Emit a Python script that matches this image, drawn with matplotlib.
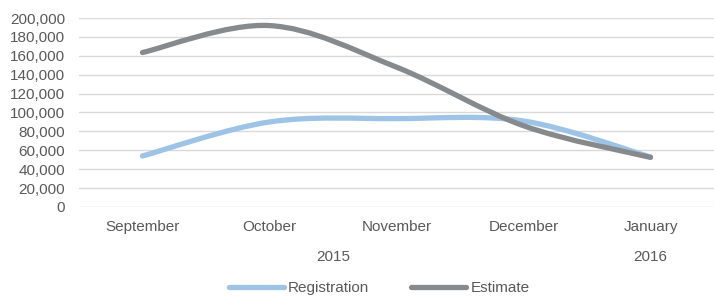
import matplotlib
matplotlib.use("Agg")
import matplotlib.pyplot as plt
from matplotlib.path import Path
from matplotlib.patches import PathPatch
from matplotlib.lines import Line2D
import matplotlib.transforms as mtransforms
import numpy as np

plt.rcParams['font.family'] = ['Liberation Sans', 'DejaVu Sans']

months = ["September", "October", "November", "December", "January"]
years = ["2015", "2016"]
year_spans = [(0, 3), (4, 4)]
registration = [54000, 90000, 93500, 91000, 53000]
estimate = [163500, 192000, 148000, 86000, 52500]
yticks = list(range(0, 200001, 20000))

TEXT = "#595959"
BLUE = "#9DC3E6"
GRAY = "#878A8C"
GRID = "#D9D9D9"
FS = 11

fig = plt.figure(figsize=(7.14, 2.97), dpi=100)
ax = fig.add_axes([79/714, 1-207/297, 1-79/714, (207-18)/297])

def smooth_path(xs, ys):
    pts = np.column_stack([xs, ys]).astype(float)
    n = len(pts)
    verts = [pts[0]]
    codes = [Path.MOVETO]
    for i in range(n-1):
        p0 = pts[i-1] if i > 0 else pts[i]
        p1 = pts[i]
        p2 = pts[i+1]
        p3 = pts[i+2] if i+2 < n else pts[i+1]
        c1 = p1 + (p2 - p0) / 6.0
        c2 = p2 - (p3 - p1) / 6.0
        verts += [c1, c2, p2]
        codes += [Path.CURVE4]*3
    return Path(verts, codes)

x = np.arange(len(months))
for vals, col in [(registration, BLUE), (estimate, GRAY)]:
    patch = PathPatch(smooth_path(x, vals), facecolor='none', edgecolor=col,
                      lw=3.8, capstyle='round', joinstyle='round', zorder=3)
    ax.add_patch(patch)

ax.set_xlim(-0.5, len(months)-0.5)
ax.set_ylim(0, 200000)
ax.set_yticks(yticks)
ax.set_yticklabels([f"{v:,}" for v in yticks], color=TEXT, fontsize=FS)
ax.set_xticks(x)
ax.set_xticklabels([])
ax.tick_params(axis='both', length=0)
ax.tick_params(axis='y', pad=10)
ax.grid(axis='y', color=GRID, lw=1.0)
ax.set_axisbelow(True)
for s in ax.spines.values():
    s.set_visible(False)

trans = mtransforms.blended_transform_factory(ax.transData, fig.transFigure)
for i, m in enumerate(months):
    ax.text(i, 1-227/297, m, transform=trans, ha='center', va='center',
            color=TEXT, fontsize=FS)
for yr, (a, b) in zip(years, year_spans):
    ax.text((a+b)/2, 1-257/297, yr, transform=trans, ha='center', va='center',
            color=TEXT, fontsize=FS)

handles = [Line2D([], [], color=BLUE, lw=3.8, solid_capstyle='round'),
           Line2D([], [], color=GRAY, lw=3.8, solid_capstyle='round')]
leg = fig.legend(handles, ["Registration", "Estimate"], loc='center',
                 bbox_to_anchor=(379/714, 1-288/297), ncol=2, frameon=False,
                 fontsize=FS, handlelength=3.6, handletextpad=0.3,
                 columnspacing=2.7, labelcolor=TEXT, borderpad=0)

fig.savefig("out.png", dpi=100)
